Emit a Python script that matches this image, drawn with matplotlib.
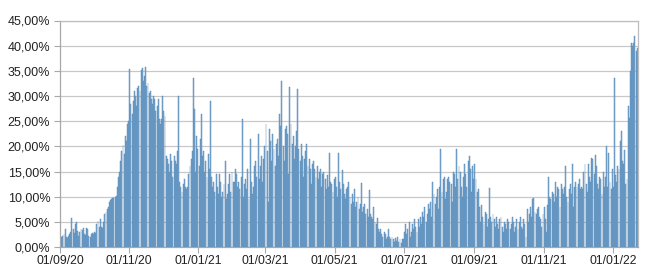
import matplotlib
matplotlib.use("Agg")
import matplotlib.pyplot as plt
import matplotlib.dates as mdates
import numpy as np
import pandas as pd

start_date = "2020-09-01"
tick_dates = ["2020-09-01", "2020-11-01", "2021-01-01", "2021-03-01", "2021-05-01",
              "2021-07-01", "2021-09-01", "2021-11-01", "2022-01-01"]
y_ticks = [0, 5, 10, 15, 20, 25, 30, 35, 40, 45]

sep20 = [1.8, 2.0, 2.2, 2.5, 3.5, 2.0, 1.8, 2.2, 2.5, 3.0, 5.8, 3.5, 2.8, 4.5, 5.0, 3.2, 2.2, 3.0, 3.5, 3.3,
         3.8, 2.5, 2.3, 3.8, 3.6, 2.2, 2.0, 2.5, 2.8, 2.6]
oct20 = [3.0, 2.8, 4.5, 5.2, 4.0, 5.5, 4.0, 3.8, 5.0, 6.5, 7.0, 7.5, 8.0, 9.0, 9.3, 9.5, 9.7, 9.8, 10.0, 10.2,
         12.0, 14.0, 15.0, 17.0, 19.0, 20.3, 18.5, 22.0, 21.0, 24.5, 25.0]
nov20 = [35.3, 28.5, 26.5, 29.0, 31.0, 30.0, 28.0, 31.5, 32.0, 31.0, 35.2, 35.5, 33.0, 34.0, 35.7, 32.0, 32.5,
         30.5, 31.0, 29.5, 28.5, 30.0, 29.5, 27.0, 28.0, 29.5, 25.5, 24.5, 25.5, 30.0]
dec20 = [27.0, 26.0, 18.0, 17.5, 16.5, 15.0, 18.5, 17.0, 14.0, 18.0, 17.0, 16.5, 19.0, 30.0, 13.0, 12.0, 11.0,
         12.5, 13.5, 12.0, 11.5, 12.0, 14.5, 16.0, 17.5, 19.0, 33.5, 27.5, 15.0, 22.0, 19.5]
jan21 = [16.0, 21.5, 26.5, 18.0, 19.0, 15.0, 17.0, 14.0, 18.5, 15.5, 29.0, 14.0, 12.0, 13.0, 11.0, 14.5, 12.0,
         10.5, 14.5, 13.0, 10.0, 11.0, 12.5, 17.0, 9.5, 10.5, 12.5, 14.5, 11.0, 15.0, 13.0]
feb21 = [13.0, 15.5, 14.5, 12.0, 13.0, 11.5, 14.0, 25.5, 10.0, 12.5, 13.5, 11.5, 15.5, 9.5, 21.5, 13.0, 10.5,
         12.0, 16.0, 17.0, 14.0, 22.5, 13.5, 16.0, 18.0, 13.0, 17.5, 20.0]
mar21 = [24.5, 19.0, 9.0, 23.5, 21.0, 17.0, 22.5, 19.5, 16.0, 20.5, 21.5, 18.0, 26.5, 24.0, 33.0, 20.0, 17.0,
         23.5, 24.0, 22.5, 14.5, 31.8, 24.5, 20.5, 22.0, 17.5, 20.0, 23.0, 31.3, 19.5, 17.0]
apr21 = [20.5, 18.0, 14.0, 17.5, 19.0, 20.5, 16.0, 17.5, 15.5, 12.5, 16.5, 17.0, 15.5, 14.0, 16.0, 13.5, 15.0,
         15.5, 12.0, 14.5, 15.0, 13.5, 11.5, 14.3, 12.0, 18.6, 13.0, 12.5, 11.0, 13.5]
may21 = [14.0, 12.0, 10.0, 18.6, 13.0, 11.5, 15.3, 12.5, 10.5, 9.5, 11.5, 12.0, 13.0, 10.0, 8.5, 10.5, 9.0,
         11.6, 8.0, 9.0, 10.0, 7.5, 8.5, 12.8, 7.0, 8.0, 8.5, 6.5, 7.5, 6.0, 11.3]
jun21 = [6.5, 6.0, 5.5, 8.0, 5.0, 4.5, 5.7, 3.5, 3.0, 3.5, 2.5, 2.0, 3.0, 2.5, 1.5, 2.0, 3.5, 2.0, 1.5, 2.0,
         1.5, 1.0, 1.8, 1.2, 2.0, 1.0, 1.5, 0.8, 1.5, 1.5]
jul21 = [3.0, 4.5, 2.5, 3.5, 5.0, 2.0, 3.0, 4.5, 3.5, 5.5, 4.0, 3.0, 5.5, 4.0, 6.0, 4.5, 7.0, 6.0, 8.0, 5.0,
         6.5, 8.5, 7.5, 9.0, 6.0, 13.0, 10.5, 8.5, 10.0, 11.5, 7.5]
aug21 = [12.0, 19.5, 11.0, 13.5, 14.0, 9.5, 11.0, 13.5, 14.0, 13.0, 12.5, 9.0, 15.0, 14.5, 12.0, 19.5, 13.5,
         16.0, 15.0, 12.0, 10.0, 14.0, 16.5, 14.5, 12.0, 17.0, 18.0, 15.5, 11.0, 16.0, 13.5]
sep21 = [16.5, 13.5, 11.0, 11.5, 8.0, 5.0, 8.3, 6.0, 4.5, 7.0, 6.5, 4.0, 5.5, 11.8, 6.0, 5.0, 6.5, 5.5, 4.0,
         6.0, 4.5, 3.5, 5.5, 6.0, 4.0, 3.0, 5.0, 4.5, 3.5, 5.5]
oct21 = [5.0, 3.5, 4.5, 6.0, 5.0, 3.0, 4.0, 5.5, 3.5, 5.0, 6.0, 4.0, 3.5, 5.5, 4.5, 2.0, 7.5, 5.0, 6.5, 8.0,
         6.0, 9.5, 9.7, 7.0, 6.5, 7.5, 8.0, 6.0, 5.5, 4.0, 6.5]
nov21 = [8.0, 5.5, 3.0, 8.3, 14.0, 10.0, 9.5, 11.0, 10.5, 9.0, 13.0, 10.0, 12.0, 11.5, 8.0, 12.5, 11.5, 10.5,
         12.0, 16.0, 10.0, 9.0, 11.5, 12.5, 10.5, 16.5, 8.0, 12.0, 13.0, 12.0]
dec21 = [12.5, 13.5, 11.5, 12.0, 11.5, 15.0, 16.5, 12.5, 11.0, 16.5, 14.0, 13.0, 17.7, 17.5, 14.5, 18.3, 16.0,
         12.5, 11.5, 14.0, 13.5, 10.5, 15.0, 12.0, 14.0, 20.0, 12.0, 18.7, 13.0, 11.5, 15.5]
jan22 = [12.0, 33.6, 14.4, 13.0, 16.0, 15.5, 21.0, 23.0, 17.0, 16.5, 19.3, 12.5, 13.5, 28.0, 25.6, 35.0, 40.5,
         40.0, 40.5, 42.0, 38.9, 39.5]

values = (sep20 + oct20 + nov20 + dec20 + jan21 + feb21 + mar21 + apr21 + may21 + jun21
          + jul21 + aug21 + sep21 + oct21 + nov21 + dec21 + jan22)
dates = pd.date_range(start_date, periods=len(values), freq="D")

plt.rcParams['font.family'] = ['Liberation Sans', 'DejaVu Sans']
fig = plt.figure(figsize=(6.5, 2.79), dpi=100)
ax = fig.add_axes([60/650, 1-247/279, (638-60)/650, (247-20.5)/279])

x = mdates.date2num(dates) + 0.5
ax.bar(x, values, width=0.8, color='#85b0d6', edgecolor='#4a80b0', linewidth=0.3, zorder=2)

x0 = mdates.date2num(pd.Timestamp(start_date))
ax.set_xlim(x0, x0 + len(values) + 0.2)
ax.set_ylim(0, 45)
ax.set_yticks(y_ticks)
ax.set_yticklabels([f"{v:.2f}".replace('.', ',') + "%" for v in y_ticks], fontsize=9, color='#222222')
tdn = [mdates.date2num(pd.Timestamp(d)) for d in tick_dates]
ax.set_xticks(tdn)
ax.set_xticklabels([pd.Timestamp(d).strftime("%d/%m/%y") for d in tick_dates], fontsize=8.8, color='#222222')

ax.grid(axis='y', color='#c8c8c8', linewidth=0.9, zorder=0)
ax.set_axisbelow(True)
for s in ax.spines.values():
    s.set_color('#bdbdbd')
    s.set_linewidth(0.9)
ax.spines['left'].set_color('#a8a8a8')
ax.spines['bottom'].set_color('#a8a8a8')
ax.tick_params(axis='x', length=4, color='#a8a8a8', pad=2)
ax.tick_params(axis='y', length=4, color='#a8a8a8', pad=3)

fig.savefig("out.png", dpi=100)
